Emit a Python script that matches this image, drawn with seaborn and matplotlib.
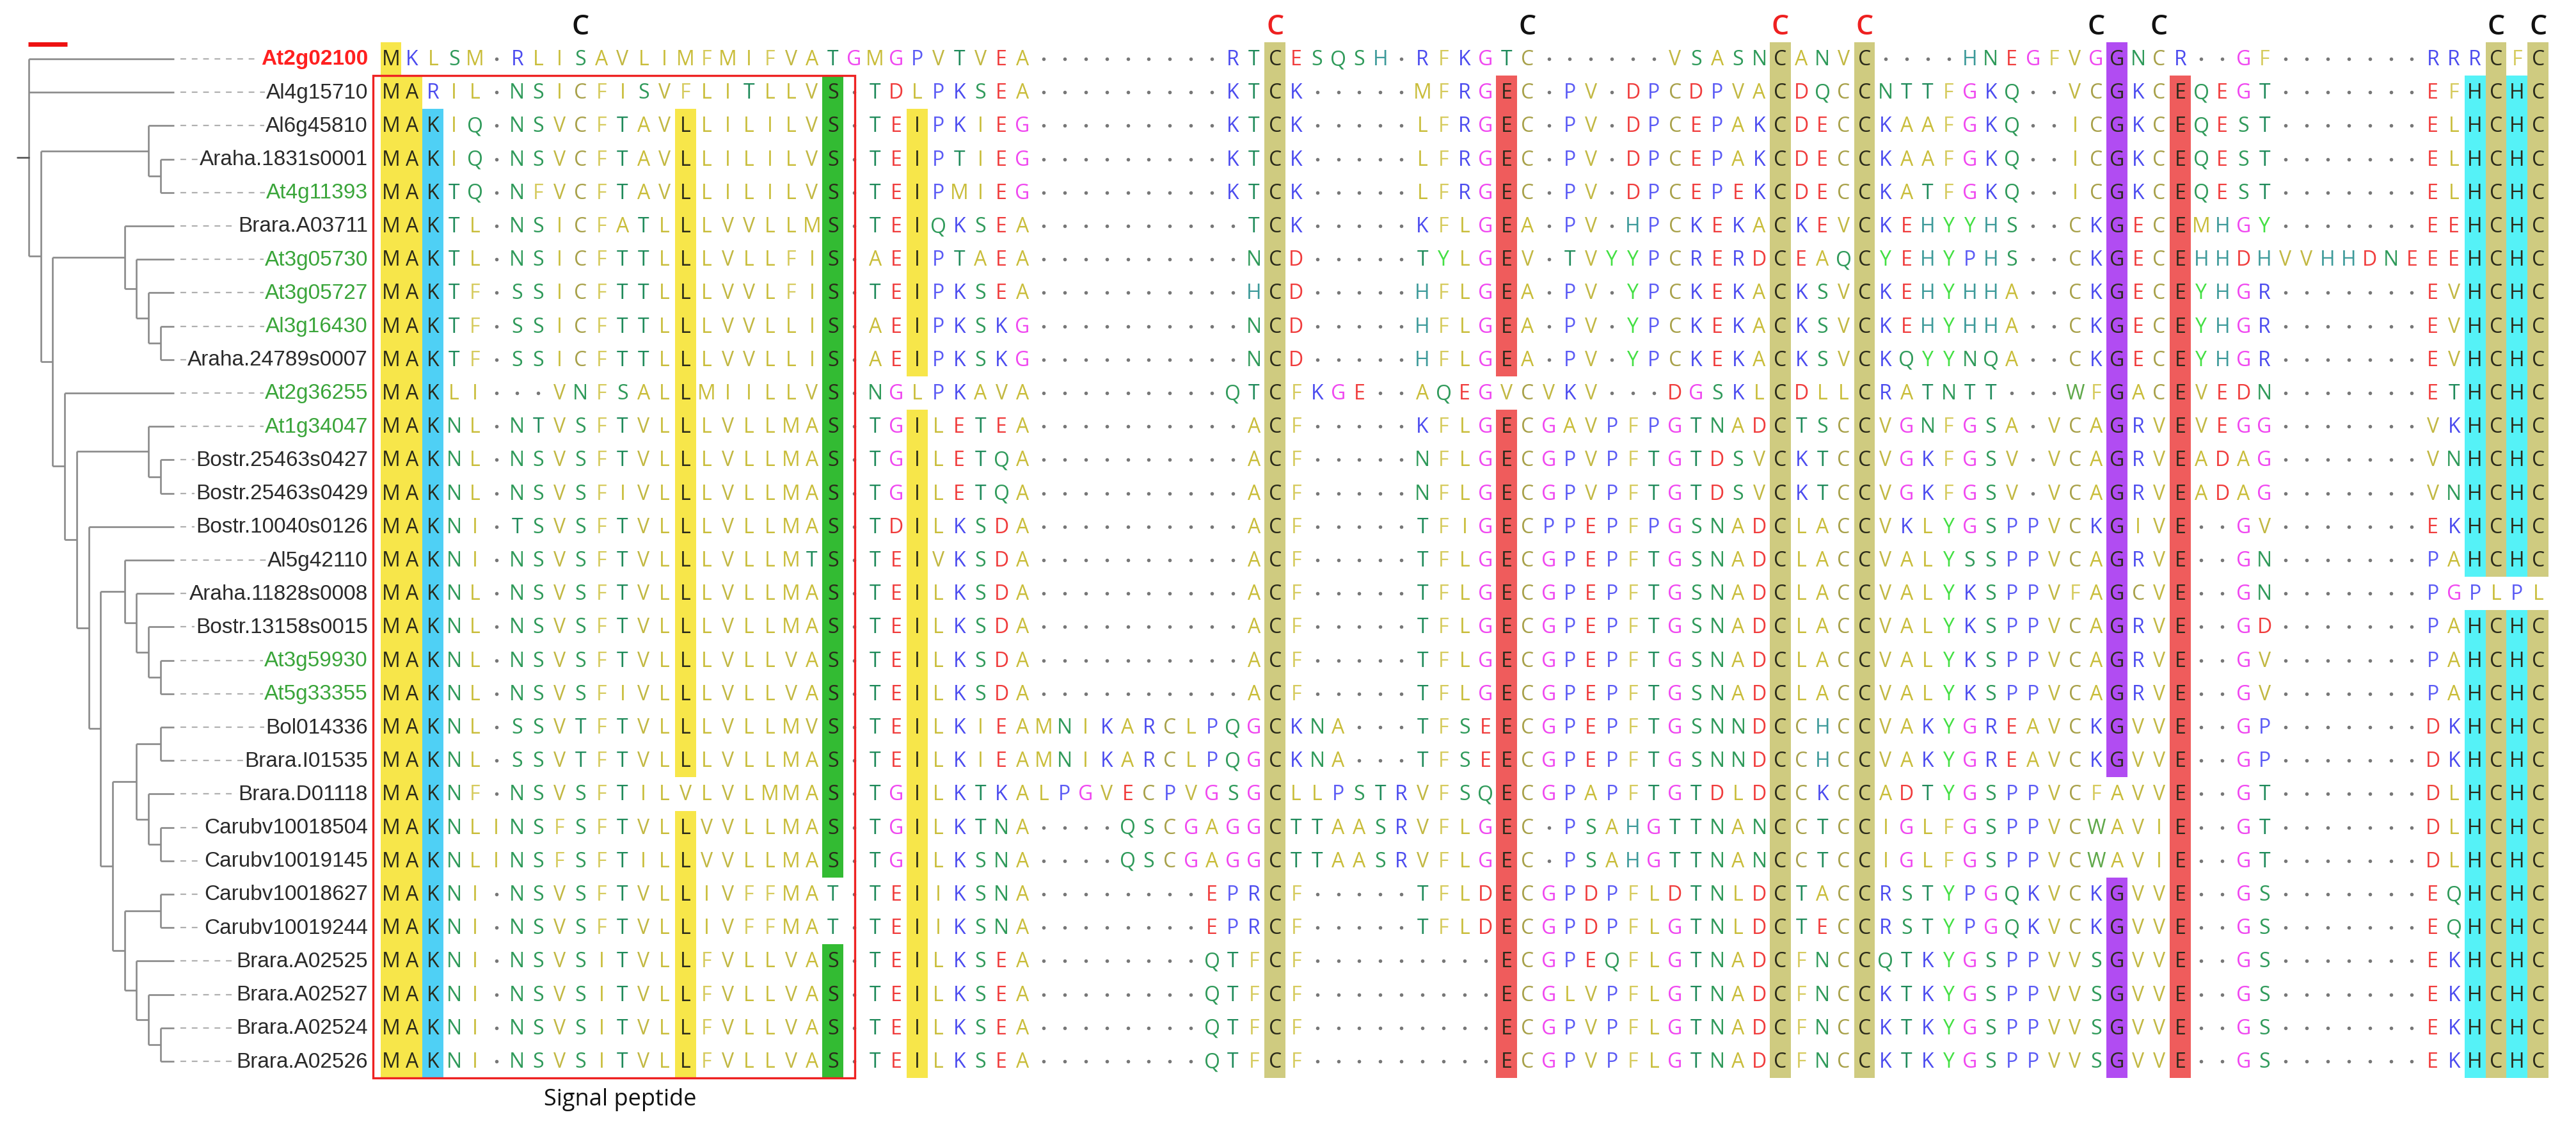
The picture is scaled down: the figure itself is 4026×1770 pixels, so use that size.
import numpy as np
import matplotlib
matplotlib.use("Agg")
import matplotlib.pyplot as plt
from matplotlib.colors import ListedColormap
from matplotlib.patches import Rectangle
import seaborn as sns

sns.set_style("white")
plt.rcParams['font.family'] = ['Open Sans', 'DejaVu Sans']

# ---------------- data ----------------
names = ["At2g02100", "Al4g15710", "Al6g45810", "Araha.1831s0001", "At4g11393", "Brara.A03711",
         "At3g05730", "At3g05727", "Al3g16430", "Araha.24789s0007", "At2g36255", "At1g34047",
         "Bostr.25463s0427", "Bostr.25463s0429", "Bostr.10040s0126", "Al5g42110", "Araha.11828s0008",
         "Bostr.13158s0015", "At3g59930", "At5g33355", "Bol014336", "Brara.I01535", "Brara.D01118",
         "Carubv10018504", "Carubv10019145", "Carubv10018627", "Carubv10019244", "Brara.A02525",
         "Brara.A02527", "Brara.A02524", "Brara.A02526"]
name_kind = ["query", "other", "other", "other", "thal", "other", "thal", "thal", "thal", "other",
             "thal", "thal", "other", "other", "other", "other", "other", "other", "thal", "thal",
             "other", "other", "other", "other", "other", "other", "other", "other", "other",
             "other", "other"]

segments = [
    ["MKLSM-RLISAVLIMFMIFVATGMGPVTVEA", "---------RTC", "ESQSH-RFKGT", "C------VSASNC", "ANVC", "----HNEGFVGG", "NCR--GF-------RRRCFC"],
    ["MARIL-NSICFISVFLITLLVS-TDLPKSEA", "---------KTC", "K-----MFRGE", "C-PV-DPCDPVAC", "DQCC", "NTTFGKQ--VCG", "KCEQEGT-------EFHCHC"],
    ["MAKIQ-NSVCFTAVLLILILVS-TEIPKIEG", "---------KTC", "K-----LFRGE", "C-PV-DPCEPAKC", "DECC", "KAAFGKQ--ICG", "KCEQEST-------ELHCHC"],
    ["MAKIQ-NSVCFTAVLLILILVS-TEIPTIEG", "---------KTC", "K-----LFRGE", "C-PV-DPCEPAKC", "DECC", "KAAFGKQ--ICG", "KCEQEST-------ELHCHC"],
    ["MAKTQ-NFVCFTAVLLILILVS-TEIPMIEG", "---------KTC", "K-----LFRGE", "C-PV-DPCEPEKC", "DECC", "KATFGKQ--ICG", "KCEQEST-------ELHCHC"],
    ["MAKTL-NSICFATLLLVVLLMS-TEIQKSEA", "----------TC", "K-----KFLGE", "A-PV-HPCKEKAC", "KEVC", "KEHYYHS--CKG", "ECEMHGY-------EEHCHC"],
    ["MAKTL-NSICFTTLLLVLLFIS-AEIPTAEA", "----------NC", "D-----TYLGE", "V-TVYYPCRERDC", "EAQC", "YEHYPHS--CKG", "ECEHHDHVVHHDNEEEHCHC"],
    ["MAKTF-SSICFTTLLLVVLFIS-TEIPKSEA", "----------HC", "D-----HFLGE", "A-PV-YPCKEKAC", "KSVC", "KEHYHHA--CKG", "ECEYHGR-------EVHCHC"],
    ["MAKTF-SSICFTTLLLVVLLIS-AEIPKSKG", "----------NC", "D-----HFLGE", "A-PV-YPCKEKAC", "KSVC", "KEHYHHA--CKG", "ECEYHGR-------EVHCHC"],
    ["MAKTF-SSICFTTLLLVVLLIS-AEIPKSKG", "----------NC", "D-----HFLGE", "A-PV-YPCKEKAC", "KSVC", "KQYYNQA--CKG", "ECEYHGR-------EVHCHC"],
    ["MAKLI---VNFSALLMIILLVS-NGLPKAVA", "---------QTC", "FKGE--AQEGV", "CVKV---DGSKLC", "DLLC", "RATNTT---WFG", "ACEVEDN-------ETHCHC"],
    ["MAKNL-NTVSFTVLLLVLLMAS-TGILETEA", "----------AC", "F-----KFLGE", "CGAVPFPGTNADC", "TSCC", "VGNFGSA-VCAG", "RVEVEGG-------VKHCHC"],
    ["MAKNL-NSVSFTVLLLVLLMAS-TGILETQA", "----------AC", "F-----NFLGE", "CGPVPFTGTDSVC", "KTCC", "VGKFGSV-VCAG", "RVEADAG-------VNHCHC"],
    ["MAKNL-NSVSFIVLLLVLLMAS-TGILETQA", "----------AC", "F-----NFLGE", "CGPVPFTGTDSVC", "KTCC", "VGKFGSV-VCAG", "RVEADAG-------VNHCHC"],
    ["MAKNI-TSVSFTVLLLVLLMAS-TDILKSDA", "----------AC", "F-----TFIGE", "CPPEPFPGSNADC", "LACC", "VKLYGSPPVCKG", "IVE--GV-------EKHCHC"],
    ["MAKNI-NSVSFTVLLLVLLMTS-TEIVKSDA", "----------AC", "F-----TFLGE", "CGPEPFTGSNADC", "LACC", "VALYSSPPVCAG", "RVE--GN-------PAHCHC"],
    ["MAKNL-NSVSFTVLLLVLLMAS-TEILKSDA", "----------AC", "F-----TFLGE", "CGPEPFTGSNADC", "LACC", "VALYKSPPVFAG", "CVE--GN-------PGPLPL"],
    ["MAKNL-NSVSFTVLLLVLLMAS-TEILKSDA", "----------AC", "F-----TFLGE", "CGPEPFTGSNADC", "LACC", "VALYKSPPVCAG", "RVE--GD-------PAHCHC"],
    ["MAKNL-NSVSFTVLLLVLLVAS-TEILKSDA", "----------AC", "F-----TFLGE", "CGPEPFTGSNADC", "LACC", "VALYKSPPVCAG", "RVE--GV-------PAHCHC"],
    ["MAKNL-NSVSFIVLLLVLLVAS-TEILKSDA", "----------AC", "F-----TFLGE", "CGPEPFTGSNADC", "LACC", "VALYKSPPVCAG", "RVE--GV-------PAHCHC"],
    ["MAKNL-SSVTFTVLLLVLLMVS-TEILKIEA", "MNIKARCLPQGC", "KNA---TFSEE", "CGPEPFTGSNNDC", "CHCC", "VAKYGREAVCKG", "VVE--GP-------DKHCHC"],
    ["MAKNL-SSVTFTVLLLVLLMAS-TEILKIEA", "MNIKARCLPQGC", "KNA---TFSEE", "CGPEPFTGSNNDC", "CHCC", "VAKYGREAVCKG", "VVE--GP-------DKHCHC"],
    ["MAKNF-NSVSFTILVLVLMMAS-TGILKTKA", "LPGVECPVGSGC", "LLPSTRVFSQE", "CGPAPFTGTDLDC", "CKCC", "ADTYGSPPVCFA", "VVE--GT-------DLHCHC"],
    ["MAKNLINSFSFTVLLVVLLMAS-TGILKTNA", "----QSCGAGGC", "TTAASRVFLGE", "C-PSAHGTTNANC", "CTCC", "IGLFGSPPVCWA", "VIE--GT-------DLHCHC"],
    ["MAKNLINSFSFTILLVVLLMAS-TGILKSNA", "----QSCGAGGC", "TTAASRVFLGE", "C-PSAHGTTNANC", "CTCC", "IGLFGSPPVCWA", "VIE--GT-------DLHCHC"],
    ["MAKNI-NSVSFTVLLIVFFMAT-TEIIKSNA", "--------EPRC", "F-----TFLDE", "CGPDPFLDTNLDC", "TACC", "RSTYPGQKVCKG", "VVE--GS-------EQHCHC"],
    ["MAKNI-NSVSFTVLLIVFFMAT-TEIIKSNA", "--------EPRC", "F-----TFLDE", "CGPDPFLGTNLDC", "TECC", "RSTYPGQKVCKG", "VVE--GS-------EQHCHC"],
    ["MAKNI-NSVSITVLLFVLLVAS-TEILKSEA", "--------QTFC", "F---------E", "CGPEQFLGTNADC", "FNCC", "QTKYGSPPVVSG", "VVE--GS-------EKHCHC"],
    ["MAKNI-NSVSITVLLFVLLVAS-TEILKSEA", "--------QTFC", "F---------E", "CGLVPFLGTNADC", "FNCC", "KTKYGSPPVVSG", "VVE--GS-------EKHCHC"],
    ["MAKNI-NSVSITVLLFVLLVAS-TEILKSEA", "--------QTFC", "F---------E", "CGPVPFLGTNADC", "FNCC", "KTKYGSPPVVSG", "VVE--GS-------EKHCHC"],
    ["MAKNI-NSVSITVLLFVLLVAS-TEILKSEA", "--------QTFC", "F---------E", "CGPVPFLGTNADC", "FNCC", "KTKYGSPPVVSG", "VVE--GS-------EKHCHC"],
]

# conserved columns highlighted when residue matches
highlight_cols = {0: 'M', 1: 'A', 2: 'K', 14: 'L', 21: 'S', 25: 'I', 42: 'C', 53: 'E', 66: 'C',
                  70: 'C', 82: 'G', 85: 'E', 99: 'H', 100: 'C', 101: 'H', 102: 'C'}
top_marks = [9, 42, 54, 66, 70, 81, 84, 100, 102]
top_mark_red = [False, True, False, True, True, False, False, False, False]

# tree: (depth, [children]); leaves are row indices
tree = (0, [0, 1,
            (1, [(10, [2, (11, [3, 4])]),
                 (2, [(8, [5, (9, [6, (10, [7, (11, [8, 9])])])]),
                      (3, [10,
                           (4, [(10, [11, (11, [12, 13])]),
                                (5, [14,
                                     (6, [(8, [15, (9, [16, (10, [17, (11, [18, 19])])])]),
                                          (7, [(9, [(11, [20, 21]), (10, [22, (11, [23, 24])])]),
                                               (8, [(11, [25, 26]), (9, [27, (10, [28, (11, [29, 30])])])])])])])])])])])])

# ---------------- styles ----------------
W, H = 4026, 1770
NCOL = 103
col_w = 32.9
x0 = 611 - col_w / 2
row_h = 52.2
y0 = 92 - row_h / 2
nrow = len(names)

hl_color = {'M': '#f7e64a', 'A': '#f7e64a', 'L': '#f7e64a', 'I': '#f7e64a', 'K': '#4fd0f5',
            'S': '#33bb33', 'C': '#cfcb80', 'E': '#ef5c5c', 'G': '#b14cf2', 'H': '#55f2f7'}
res_color = {'A': '#c9bd3a', 'V': '#c2b843', 'L': '#c9bd3a', 'I': '#c9bd3a', 'M': '#c9bd3a',
             'F': '#d6cb5e', 'C': '#a8a14a', 'W': '#5fa84a', 'K': '#4b4bef', 'R': '#4b4bef',
             'P': '#5b5bf5', 'H': '#3d9a9a', 'D': '#f03c3c', 'E': '#f03c3c', 'N': '#2f9a5a',
             'Q': '#2f9a5a', 'S': '#2f9a5a', 'T': '#1f8a5a', 'G': '#f048f0', 'Y': '#44e044'}
label_color = {'query': '#ff2020', 'thal': '#3aa53a', 'other': '#2a2a2a'}

seqs = ["".join(s).ljust(NCOL, '-')[:NCOL] for s in segments]

# ---------------- figure ----------------
fig = plt.figure(figsize=(W / 100, H / 100), dpi=100)
axT = fig.add_axes([0, 0, 1, 1])
axT.set_xlim(0, W)
axT.set_ylim(H, 0)
axT.set_axis_off()

keys = list(hl_color.keys())
mat = np.full((nrow, NCOL), np.nan)
for r, s in enumerate(seqs):
    for c, ch in highlight_cols.items():
        if s[c] == ch:
            mat[r, c] = keys.index(ch)

axA = fig.add_axes([x0 / W, 1 - (y0 + nrow * row_h) / H, NCOL * col_w / W, nrow * row_h / H])
sns.heatmap(mat, ax=axA, cmap=ListedColormap([hl_color[k] for k in keys]), vmin=-0.5,
            vmax=len(keys) - 0.5, cbar=False, mask=np.isnan(mat), xticklabels=False,
            yticklabels=False)
axA.set_xlim(0, NCOL)
axA.set_ylim(nrow, 0)
axA.set_axis_off()

gx, gy = [], []
for r, s in enumerate(seqs):
    for c, ch in enumerate(s):
        if ch == '-':
            gx.append(c + 0.5)
            gy.append(r + 0.5)
            continue
        hl = not np.isnan(mat[r, c])
        axA.text(c + 0.5, r + 0.53, ch, ha='center', va='center', fontsize=23,
                 color='#2a2a1a' if hl else res_color.get(ch, '#888'))
axA.scatter(gx, gy, s=16, color='#777777', linewidths=0)

for c, red in zip(top_marks, top_mark_red):
    axA.text(c + 0.5, -0.45, 'C', ha='center', va='center', fontsize=31, fontweight='semibold',
             color='#ee2020' if red else '#111111', clip_on=False)

axA.add_patch(Rectangle((-0.35, 1), 22.9, nrow - 1, fill=False, edgecolor='#ee2222',
                        linewidth=2.4, clip_on=False))
axA.text(11.4, nrow + 0.65, 'Signal peptide', ha='center', va='center', fontsize=26,
         color='#111111', clip_on=False)

# ---------------- tree ----------------
def dx(d):
    return 45 + 18.7 * d

tip_x = 272
def ypix(r):
    return 92 + row_h * r

def draw(node):
    if isinstance(node, int):
        return ypix(node)
    d, kids = node
    x = dx(d)
    ys = []
    for k in kids:
        yk = draw(k)
        xe = tip_x if isinstance(k, int) else dx(k[0])
        axT.plot([x, xe], [yk, yk], color='#8a8a8a', lw=1.9, solid_capstyle='butt')
        ys.append(yk)
    axT.plot([x, x], [min(ys), max(ys)], color='#8a8a8a', lw=1.9, solid_capstyle='butt')
    return (min(ys) + max(ys)) / 2

yroot = draw(tree)
axT.plot([27, 45], [yroot, yroot], color='#555555', lw=1.9)

for r, nm in enumerate(names):
    y = ypix(r)
    axT.plot([282, 566], [y, y], color='#b0b0b0', lw=1.6, ls=(0, (4, 4)))
    axT.text(575, y + 1, nm, ha='right', va='center', fontsize=24,
             family=['Liberation Sans', 'DejaVu Sans'], color=label_color[name_kind[r]],
             fontweight='bold' if name_kind[r] == 'query' else 'normal',
             bbox=dict(facecolor='white', edgecolor='none', pad=1.5))

axT.plot([44, 105], [69, 69], color='#ee1111', lw=5, solid_capstyle='butt')

fig.savefig('out.png', dpi=100)
